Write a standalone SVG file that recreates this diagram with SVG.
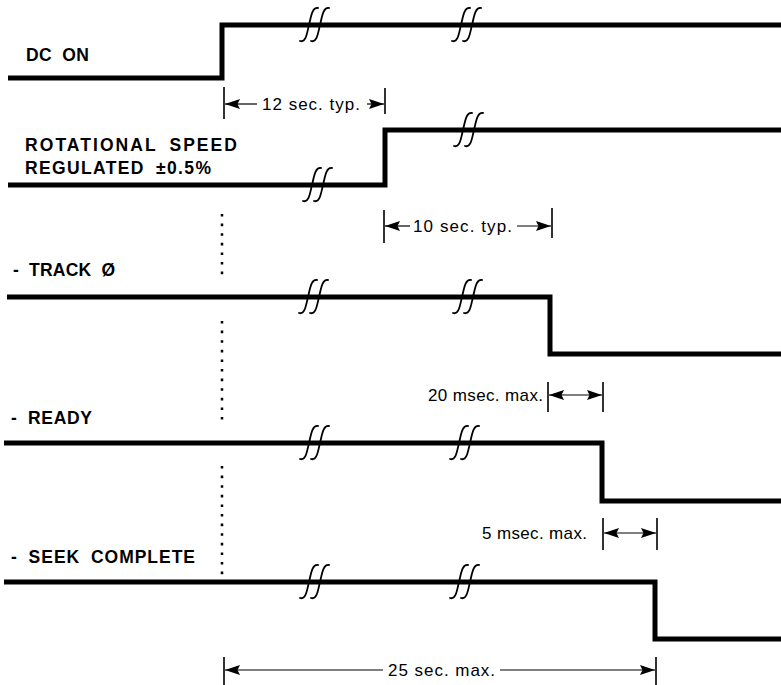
<svg xmlns="http://www.w3.org/2000/svg" xmlns:xlink="http://www.w3.org/1999/xlink" width="781" height="685" viewBox="0 0 781 685">
<style>
.sig{fill:none;stroke:#000;stroke-width:5;stroke-linejoin:miter;stroke-linecap:butt}
.brk{fill:none;stroke:#000;stroke-width:1.8;stroke-linecap:round}
.lbl{font-family:"Liberation Sans",Arial,sans-serif;font-weight:bold;font-size:17.5px;fill:#000;word-spacing:5px}
.dim{font-family:"Liberation Sans",Arial,sans-serif;font-size:17px;fill:#000}
.dl{fill:none;stroke:#000;stroke-width:1.2}
.tk{fill:none;stroke:#000;stroke-width:1.6}
.dot{fill:none;stroke:#000;stroke-width:2.5;stroke-dasharray:2.6 7}
</style>
<defs>
<marker id="ah" viewBox="-16 -6 17 12" refX="0" refY="0" markerWidth="17" markerHeight="12" markerUnits="userSpaceOnUse" orient="auto-start-reverse">
<path d="M0 0 L-15 -5 L-12.5 0 L-15 5 Z" fill="#000"/>
</marker>
<g id="brk">
<path class="brk" d="M-15 16 C-9 18 -8 8 -6 0 C-4 -8 -3 -18 3 -17"/>
<path class="brk" d="M-4 16 C2 18 3 8 5 0 C7 -8 8 -18 14 -17"/>
</g>
</defs>
<rect width="781" height="685" fill="#fff"/>

<g id="dc-on">
<text class="lbl" x="26" y="61" textLength="63" lengthAdjust="spacing">DC ON</text>
<path class="sig" d="M8 78 H222 V25 H781"/>
<use xlink:href="#brk" x="315" y="25"/>
<use xlink:href="#brk" x="467" y="25"/>
</g>

<g id="rotational-speed">
<text class="lbl" x="25" y="151" textLength="212" lengthAdjust="spacing">ROTATIONAL SPEED</text>
<text class="lbl" x="25" y="174" textLength="186" lengthAdjust="spacing">REGULATED ±0.5%</text>
<path class="sig" d="M8 185 H385 V130 H781"/>
<use xlink:href="#brk" x="318" y="185"/>
<use xlink:href="#brk" x="469" y="130"/>
</g>

<g id="track0">
<text class="lbl" x="13" y="276" textLength="102" lengthAdjust="spacing">- TRACK Ø</text>
<path class="sig" d="M7 297 H550 V354 H781"/>
<use xlink:href="#brk" x="314" y="297"/>
<use xlink:href="#brk" x="468" y="297"/>
</g>

<g id="ready">
<text class="lbl" x="11" y="424" textLength="81" lengthAdjust="spacing">- READY</text>
<path class="sig" d="M4 443 H602 V501 H781"/>
<use xlink:href="#brk" x="315" y="443"/>
<use xlink:href="#brk" x="465" y="443"/>
</g>

<g id="seek-complete">
<text class="lbl" x="11" y="563" textLength="184" lengthAdjust="spacing">- SEEK COMPLETE</text>
<path class="sig" d="M4 582 H655 V639 H781"/>
<use xlink:href="#brk" x="315" y="582"/>
<use xlink:href="#brk" x="465" y="582"/>
</g>

<g id="connectors">
<path class="dot" d="M222 214 V275"/>
<path class="dot" d="M222 321 V422"/>
<path class="dot" d="M222 466 V575"/>

<path class="tk" d="M224 87 V119 M385 88 V114"/>
<path class="dl" d="M257 104 H225" marker-end="url(#ah)"/>
<path class="dl" d="M367 104 H384" marker-end="url(#ah)"/>
<text class="dim" x="262" y="110" textLength="98" lengthAdjust="spacing">12 sec. typ.</text>

<path class="tk" d="M384 210 V243 M552 208 V238"/>
<path class="dl" d="M410 226 H385" marker-end="url(#ah)"/>
<path class="dl" d="M517 226 H551" marker-end="url(#ah)"/>
<text class="dim" x="413" y="232" textLength="99" lengthAdjust="spacing">10 sec. typ.</text>

<path class="tk" d="M548 382 V412 M603 382 V412"/>
<path class="dl" d="M549 395 H602" marker-start="url(#ah)" marker-end="url(#ah)"/>
<text class="dim" x="428" y="401" textLength="115" lengthAdjust="spacing">20 msec. max.</text>

<path class="tk" d="M603 518 V550 M657 518 V550"/>
<path class="dl" d="M604 533 H656" marker-start="url(#ah)" marker-end="url(#ah)"/>
<text class="dim" x="482" y="539" textLength="105" lengthAdjust="spacing">5 msec. max.</text>

<path class="tk" d="M224 657 V685 M656 657 V685"/>
<path class="dl" d="M383 670 H225" marker-end="url(#ah)"/>
<path class="dl" d="M500 670 H655" marker-end="url(#ah)"/>
<text class="dim" x="388" y="676" textLength="107" lengthAdjust="spacing">25 sec. max.</text>
</g>
</svg>
